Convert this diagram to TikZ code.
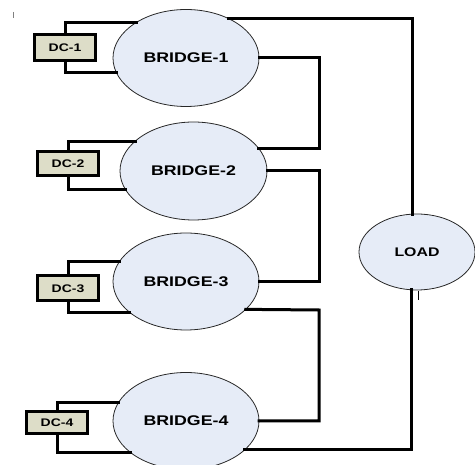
\documentclass[tikz,border=0pt]{standalone}
\usepackage{fontspec}
\setmainfont{Liberation Sans}
\usetikzlibrary{shapes.geometric}
\definecolor{ellfill}{RGB}{230,236,247}
\definecolor{ellline}{RGB}{40,40,40}
\definecolor{dcfill}{RGB}{221,221,200}
\newcommand{\wtxt}[1]{\scalebox{1.27}[1]{\bfseries #1}}
\tikzset{
  bridge/.style={ellipse, draw=ellline, line width=0.8pt, fill=ellfill, inner sep=0pt, outer sep=0pt,
    minimum width=146pt, minimum height=97pt, font=\fontsize{14}{16}\selectfont},
  loadnode/.style={ellipse, draw=ellline, line width=0.8pt, fill=ellfill, inner sep=0pt, outer sep=0pt,
    minimum width=116pt, minimum height=76pt, font=\fontsize{12.5}{14}\selectfont},
  dcbox/.style={rectangle, draw=black, line width=3pt, fill=dcfill, inner sep=0pt, outer sep=0pt,
    minimum width=61pt, minimum height=22pt, font=\fontsize{11}{13}\selectfont},
  wire/.style={draw=black, line width=3pt, line cap=rect},
  thinmark/.style={draw=gray, line width=0.8pt}
}
\begin{document}
\begin{tikzpicture}[x=1pt,y=-1pt]
\useasboundingbox (0,0) rectangle (475,465);
\clip (0,0) rectangle (475,465);
% bridges and load
\node[bridge] (b1) at (186,58) {\wtxt{BRIDGE-1}};
\node[bridge, minimum width=147pt, minimum height=98pt] (b2) at (193.5,171) {\wtxt{BRIDGE-2}};
\node[bridge] (b3) at (186,281.5) {\wtxt{BRIDGE-3}};
\node[bridge] (b4) at (186,421) {\wtxt{BRIDGE-4}};
\node[loadnode] (load) at (417,252) {\wtxt{LOAD}};
% dc sources
\node[dcbox, minimum height=26pt] (dc1) at (65,48) {\wtxt{DC-1}};
\node[dcbox, minimum height=24pt] (dc2) at (68,164) {\wtxt{DC-2}};
\node[dcbox, minimum height=25pt] (dc3) at (68,288.5) {\wtxt{DC-3}};
\node[dcbox] (dc4) at (57,422.5) {\wtxt{DC-4}};
% junction corners
\coordinate (j1) at (319,58);
\coordinate (j2) at (319,171);
\coordinate (j3) at (319,310);
% dc to bridge wires
\draw[wire] (dc1.north) |- (b1.144);
\draw[wire] (dc1.south) |- (b1.192.2);
\draw[wire] (dc2.north) |- (b2.153.9);
\draw[wire] (dc2.south) |- (b2.195.7);
\draw[wire] (dc3.north) |- (b3.163.7);
\draw[wire] (dc3.south) |- (b3.209.6);
\draw[wire] (dc4.north) |- (b4.165.1);
\draw[wire] (dc4.south) |- (b4.210.5);
% series connections
\draw[wire] (b1.east) -- (j1) |- (b2.19.5);
\draw[wire] (b2.east) -- (j2) |- (b3.east);
\draw[wire] (b3.-25.8) -- (j3) |- (b4.east);
% load connections
\draw[wire] (b1.43.6) -| (load.97.5);
\draw[wire] (b4.-26.6) -| (load.262);
% small marks
\draw[thinmark] (13,12) -- (13,18);
\draw[thinmark, draw=black] (418,291) -- (418,300);
\end{tikzpicture}
\end{document}
